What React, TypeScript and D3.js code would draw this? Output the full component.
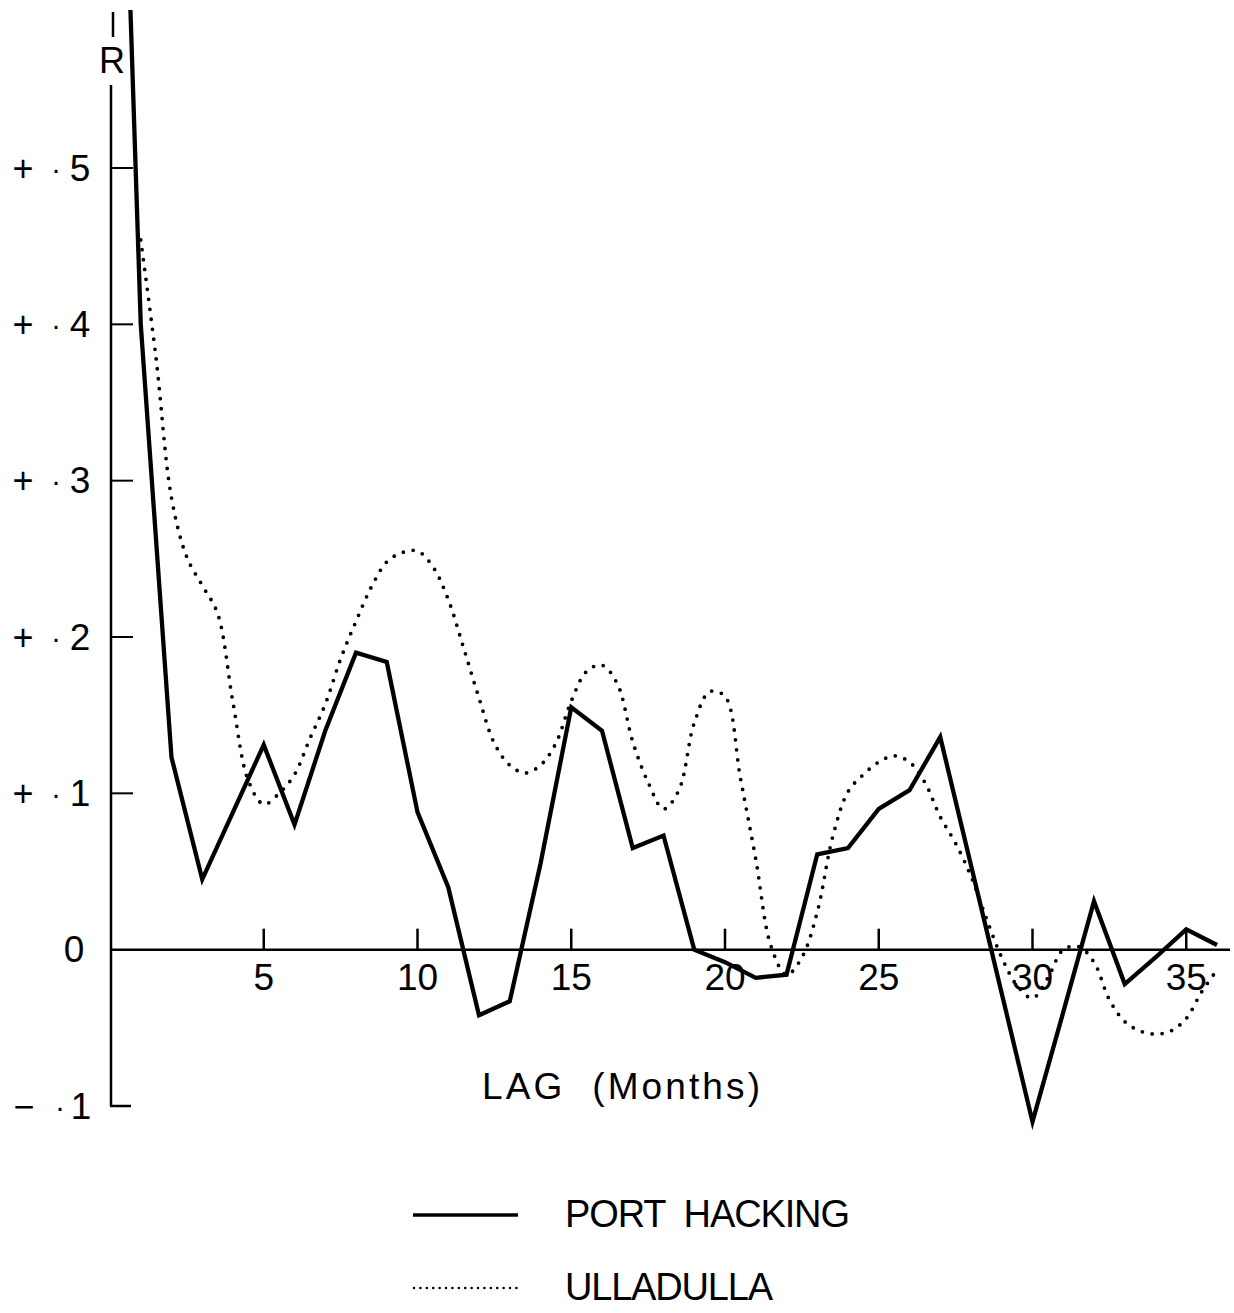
import React from "react";
import * as d3 from "d3";

// Port Hacking autocorrelation (solid), integer lags 0..36
const phLags = [0,1,2,3,4,5,6,7,8,9,10,11,12,13,14,15,16,17,18,19,20,21,22,23,24,25,26,27,28,29,30,31,32,33,34,35,36];
const phValues = [1.0,0.40,0.123,0.045,0.088,0.131,0.08,0.14,0.19,0.184,0.088,0.04,-0.042,-0.033,0.055,0.155,0.14,0.065,0.073,0.0,-0.008,-0.018,-0.016,0.061,0.065,0.09,0.102,0.136,0.054,-0.028,-0.11,-0.04,0.031,-0.022,-0.005,0.013,0.003];

// Ulladulla autocorrelation (dotted), read at half-month steps
const ulLags = [1,1.5,2,2.5,3,3.5,4,4.5,5,5.5,6,6.5,7,7.5,8,8.5,9,9.5,10,10.5,11,11.5,12,12.5,13,13.5,14,14.5,15,15.5,16,16.5,17,17.5,18,18.5,19,19.5,20,20.5,21,21.5,22,22.5,23,23.5,24,24.5,25,25.5,26,26.5,27,27.5,28,28.5,29,29.5,30,30.5,31,31.5,32,32.5,33,33.5,34,34.5,35,35.5,36];
const ulValues = [0.454,0.378,0.289,0.251,0.233,0.215,0.158,0.108,0.093,0.1,0.112,0.135,0.157,0.186,0.21,0.232,0.248,0.254,0.255,0.245,0.224,0.193,0.161,0.132,0.118,0.113,0.118,0.132,0.159,0.178,0.182,0.17,0.133,0.107,0.09,0.102,0.145,0.165,0.162,0.11,0.058,0.002,-0.016,-0.005,0.024,0.072,0.101,0.112,0.12,0.124,0.12,0.107,0.085,0.068,0.047,0.02,-0.005,-0.023,-0.031,-0.018,0.0,0.002,-0.008,-0.032,-0.046,-0.052,-0.054,-0.052,-0.044,-0.027,-0.013];

const xTicks = [5,10,15,20,25,30,35];
const yTicks = [0.1,0.2,0.3,0.4,0.5];
const yTickSigns = ["+","+","+","+","+"];
const yTickDigits = ["1","2","3","4","5"];

const seriesNames = ["PORT  HACKING", "ULLADULLA"];
const xTitle = "LAG  (Months)";

export default function App() {
  const x = d3.scaleLinear().domain([0, 36]).range([110, 1217]);
  const y = d3.scaleLinear().domain([-0.1, 0.5]).range([1106, 168]);

  const phData = phLags.map((l, i) => [l, phValues[i]] as [number, number]);
  const ulData = ulLags.map((l, i) => [l, ulValues[i]] as [number, number]);

  const solid = d3.line<[number, number]>().x(d => x(d[0])).y(d => y(d[1])).curve(d3.curveLinear)(phData) || "";
  const dotted = d3.line<[number, number]>().x(d => x(d[0])).y(d => y(d[1])).curve(d3.curveCatmullRom.alpha(0.5))(ulData) || "";

  const font = "'Liberation Sans', Arial, sans-serif";
  const axisX = x(0) + 1;
  const y0 = y(0);
  const pre = { whiteSpace: "pre" as const };

  return (
    <svg width={1234} height={1313} style={{ position: "absolute", left: 0, top: 0, background: "#fff" }} fontFamily={font}>
      <defs>
        <clipPath id="plotClip">
          <rect x={0} y={10} width={1234} height={1200} />
        </clipPath>
      </defs>
      {/* y axis */}
      <line x1={axisX + 2} x2={axisX + 2} y1={12} y2={37} stroke="#000" strokeWidth={2.5} />
      <text x={axisX + 1} y={60} fontSize={36} textAnchor="middle" dominantBaseline="central">R</text>
      <line x1={axisX} x2={axisX} y1={85} y2={y(-0.1)} stroke="#000" strokeWidth={2.5} />
      <line x1={axisX - 1} x2={axisX + 20} y1={y(-0.1)} y2={y(-0.1)} stroke="#000" strokeWidth={2.5} />
      {yTicks.map((t, i) => (
        <g key={t}>
          <line x1={axisX} x2={axisX + 22} y1={y(t)} y2={y(t)} stroke="#000" strokeWidth={2} />
          <text x={23} y={y(t)} fontSize={36} textAnchor="middle" dominantBaseline="central">{yTickSigns[i]}</text>
          <text x={56} y={y(t)} fontSize={30} textAnchor="middle" dominantBaseline="central">·</text>
          <text x={80} y={y(t)} fontSize={37} textAnchor="middle" dominantBaseline="central">{yTickDigits[i]}</text>
        </g>
      ))}
      <text x={74} y={y0} fontSize={37} textAnchor="middle" dominantBaseline="central">0</text>
      <text x={24} y={y(-0.1)} fontSize={36} textAnchor="middle" dominantBaseline="central">−</text>
      <text x={60} y={y(-0.1)} fontSize={30} textAnchor="middle" dominantBaseline="central">·</text>
      <text x={81} y={y(-0.1)} fontSize={37} textAnchor="middle" dominantBaseline="central">1</text>

      {/* x axis */}
      <line x1={axisX - 1} x2={1230} y1={y0} y2={y0} stroke="#000" strokeWidth={2.5} />
      {xTicks.map(t => (
        <g key={t}>
          <line x1={x(t)} x2={x(t)} y1={y0 - 21} y2={y0} stroke="#000" strokeWidth={2.5} />
          <text x={x(t)} y={977} fontSize={37} textAnchor="middle" dominantBaseline="central">{t}</text>
        </g>
      ))}
      <text x={621} y={1086} fontSize={37} textAnchor="middle" dominantBaseline="central" textLength={278} lengthAdjust="spacing" style={pre}>{xTitle}</text>

      {/* series */}
      <g clipPath="url(#plotClip)">
        <path d={dotted} fill="none" stroke="#000" strokeWidth={3.8} strokeDasharray="0 10" strokeLinecap="round" />
        <path d={solid} fill="none" stroke="#000" strokeWidth={4.3} strokeLinejoin="miter" />
      </g>

      {/* legend */}
      <line x1={413} x2={518} y1={1215} y2={1215} stroke="#000" strokeWidth={3.5} />
      <text x={565} y={1214} fontSize={38} dominantBaseline="central" textLength={285} lengthAdjust="spacing" style={pre}>{seriesNames[0]}</text>
      <line x1={414} x2={520} y1={1288} y2={1288} stroke="#000" strokeWidth={2.6} strokeDasharray="0 6.4" strokeLinecap="round" />
      <text x={565} y={1287} fontSize={38} dominantBaseline="central" textLength={208} lengthAdjust="spacing">{seriesNames[1]}</text>
    </svg>
  );
}
